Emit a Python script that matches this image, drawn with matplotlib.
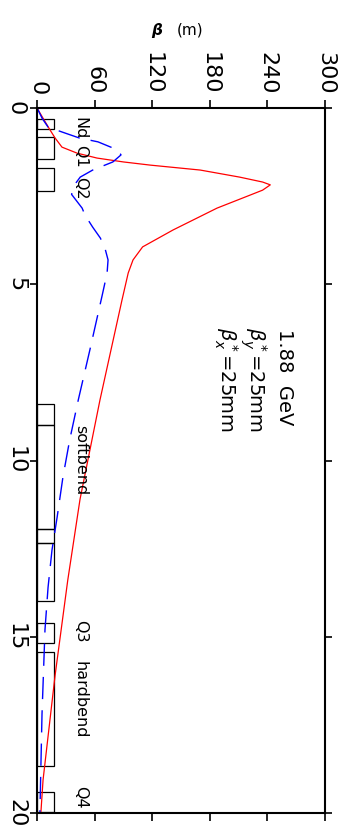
import matplotlib
matplotlib.use("Agg")
import matplotlib.pyplot as plt
from matplotlib.patches import Rectangle

# beta functions along the line (s in m, beta in m)
s_red = [0.0, 0.3, 0.62, 0.85, 1.11, 1.28, 1.42, 1.53, 1.62, 1.76, 1.96, 2.10, 2.18,
         2.33, 2.47, 2.84, 3.46, 3.94, 4.31, 4.68, 5.45, 6.87, 8.28, 11.1, 13.4,
         16.1, 19.06, 20.0]
beta_red = [0.03, 6.5, 13.5, 18.8, 26, 41.7, 62.5, 90, 118, 170, 211, 235, 243,
            235, 222, 187.5, 141.7, 110, 100, 95, 88.5, 77, 65.6, 44.8, 32,
            18.8, 6.3, 4]

s_blue = [0.0, 0.3, 0.54, 0.68, 0.85, 0.96, 1.19, 1.33, 1.53, 1.76, 1.96, 2.2, 2.45,
          2.84, 3.04, 3.38, 3.69, 4.0, 4.31, 4.68, 5.3, 6.87, 8.28, 9.42, 10.47,
          11.6, 12.54, 13.6, 14.8, 17.2, 20.0]
beta_blue = [0.03, 5.5, 11.5, 26, 44, 63.5, 84, 87.5, 79, 58, 45, 38.5, 36,
             47, 50, 58, 66, 71, 74, 73, 68, 55, 43, 34, 27,
             21, 15.6, 11.5, 8.3, 5.2, 3]

# magnet boxes (start / end in s)
box_start = [0.31, 0.82, 1.70, 8.40, 8.99, 11.94, 12.34, 14.61, 15.43, 19.40]
box_end = [0.60, 1.45, 2.35, 8.99, 11.94, 12.34, 13.99, 15.18, 18.67, 19.97]

# element names
elem_names = ["Nd", "Q1", "Q2", "softbend", "Q3", "hardbend", "Q4"]
elem_s = [0.57, 1.36, 2.28, 10.0, 14.84, 16.8, 19.55]

beta_ticks = [0, 60, 120, 180, 240, 300]
s_ticks = [0, 5, 10, 15, 20]

fig = plt.figure(figsize=(3.44, 8.36), dpi=100)
ax = fig.add_axes([0.1076, 0.0275, 0.8372, 0.8433])

ax.plot(beta_red, s_red, color="red", lw=0.9)
ax.plot(beta_blue, s_blue, color="blue", lw=1.0, linestyle=(0, (16, 8)))

for a, b in zip(box_start, box_end):
    ax.add_patch(Rectangle((0, a), 18, b - a, fill=False, ec="black", lw=0.9))

for name, s in zip(elem_names, elem_s):
    ax.text(45, s, name, rotation=-90, ha="center", va="center", fontsize=11.5)

ax.text(258, 6.26, "1.88  GeV", rotation=-90, ha="center", va="top", fontsize=14)
ax.text(225, 6.2, r"$\beta^*_y$=25mm", rotation=-90, ha="center", va="top", fontsize=14)
ax.text(197, 6.2, r"$\beta^*_x$=25mm", rotation=-90, ha="center", va="top", fontsize=14)

ax.set_xlim(0, 300)
ax.set_ylim(20, 0)
ax.set_xticks(beta_ticks)
ax.set_yticks(s_ticks)
ax.tick_params(axis="x", top=True, bottom=True, labeltop=True, labelbottom=False,
               direction="out", length=5.5, width=1.2, labelsize=16, pad=4)
ax.tick_params(axis="y", left=True, right=True, labelleft=True, labelright=False,
               direction="out", length=5, width=1.2, labelsize=16, pad=3)
for lbl in ax.get_xticklabels():
    lbl.set_rotation(-90)
for lbl in ax.get_yticklabels():
    lbl.set_rotation(-90)
    lbl.set_va("center")
for sp in ax.spines.values():
    sp.set_linewidth(1.5)

fig.text(0.455, 0.964, "β", fontsize=11, fontweight="bold", style="italic",
         ha="center", va="center")
fig.text(0.553, 0.964, "(m)", fontsize=11, ha="center", va="center")

fig.savefig("out.png", dpi=100)
